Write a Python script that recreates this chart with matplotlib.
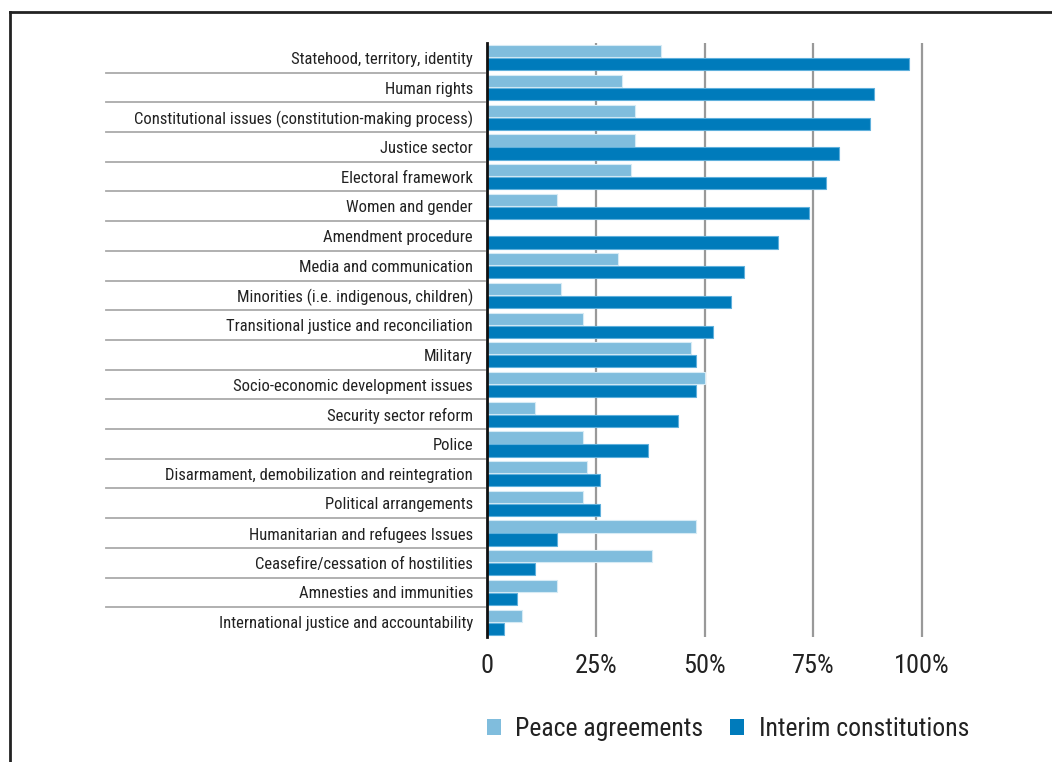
import matplotlib.pyplot as plt
import numpy as np
from matplotlib.lines import Line2D
from matplotlib.patches import Patch

plt.rcParams["font.family"] = ["Roboto Condensed", "Liberation Sans Narrow", "Roboto", "DejaVu Sans"]

CATEGORIES = [
    "Statehood, territory, identity",
    "Human rights",
    "Constitutional issues (constitution-making process)",
    "Justice sector",
    "Electoral framework",
    "Women and gender",
    "Amendment procedure",
    "Media and communication",
    "Minorities (i.e. indigenous, children)",
    "Transitional justice and reconciliation",
    "Military",
    "Socio-economic development issues",
    "Security sector reform",
    "Police",
    "Disarmament, demobilization and reintegration",
    "Political arrangements",
    "Humanitarian and refugees Issues",
    "Ceasefire/cessation of hostilities",
    "Amnesties and immunities",
    "International justice and accountability",
]
PEACE = [40, 31, 34, 34, 33, 16, 0, 30, 17, 22, 47, 50, 11, 22, 23, 22, 48, 38, 16, 8]
INTERIM = [97, 89, 88, 81, 78, 74, 67, 59, 56, 52, 48, 48, 44, 37, 26, 26, 16, 11, 7, 4]
X_TICKS = [0, 25, 50, 75, 100]
X_LABELS = ["0", "25%", "50%", "75%", "100%"]
SERIES_NAMES = ["Peace agreements", "Interim constitutions"]

LIGHT = "#80bddd"
DARK = "#007bbb"

W, H = 1052, 762
fig = plt.figure(figsize=(W / 100, H / 100), dpi=100)

# axes placed in pixel terms: x=0 at 487px, 100% at 922px
left_px, top_px, bottom_px = 487, 43, 637
px_per_unit = (922 - 487) / 100
xmax = 105
right_px = left_px + xmax * px_per_unit
ax = fig.add_axes([left_px / W, 1 - bottom_px / H, (right_px - left_px) / W, (bottom_px - top_px) / H])

y = np.arange(len(CATEGORIES))
bar_h = 0.41
ax.barh(y - 0.22, PEACE, height=bar_h, color=LIGHT, edgecolor="#d6ebf5", linewidth=0.8, zorder=3)
ax.barh(y + 0.22, INTERIM, height=bar_h, color=DARK, edgecolor="#5fb0dc", linewidth=0.8, zorder=3)

ax.set_ylim(len(CATEGORIES) - 0.5, -0.5)
ax.set_xlim(0, xmax)

for t in X_TICKS[1:]:
    ax.axvline(t, color="#999999", linewidth=1.6, zorder=1)

ax.set_xticks(X_TICKS)
ax.set_xticklabels(X_LABELS, fontsize=19, color="#222222")
ax.tick_params(axis="x", length=0, pad=12)
ax.set_yticks(y)
ax.set_yticklabels(CATEGORIES, fontsize=12, color="#222222")
ax.tick_params(axis="y", length=0, pad=10)

for side in ["top", "right", "bottom"]:
    ax.spines[side].set_visible(False)
ax.spines["left"].set_linewidth(2)
ax.spines["left"].set_color("#111111")
ax.spines["left"].set_zorder(4)

# separator lines in the label area
ax_w_px = right_px - left_px
sep_x0 = (106 - left_px) / ax_w_px
sep_x1 = (485 - left_px) / ax_w_px
for b in np.arange(0.5, len(CATEGORIES) - 1, 1.0):
    ax.plot([sep_x0, sep_x1], [b, b], transform=ax.get_yaxis_transform(),
            color="#aaaaaa", linewidth=1.3, clip_on=False)

handles = [Patch(facecolor=LIGHT), Patch(facecolor=DARK)]
fig.legend(handles, SERIES_NAMES, loc="center", bbox_to_anchor=(728 / W, 1 - 729 / H),
           ncol=2, frameon=False, fontsize=18.5, handlelength=0.55, handleheight=0.55,
           handletextpad=0.55, columnspacing=1.05, labelcolor="#222222")

# frame border (top and left)
fig.add_artist(Line2D([10 / W, 1], [1 - 12 / H, 1 - 12 / H], color="#222222", linewidth=2))
fig.add_artist(Line2D([10 / W, 10 / W], [0, 1 - 12 / H], color="#222222", linewidth=2))

fig.savefig("out.png", dpi=100)
